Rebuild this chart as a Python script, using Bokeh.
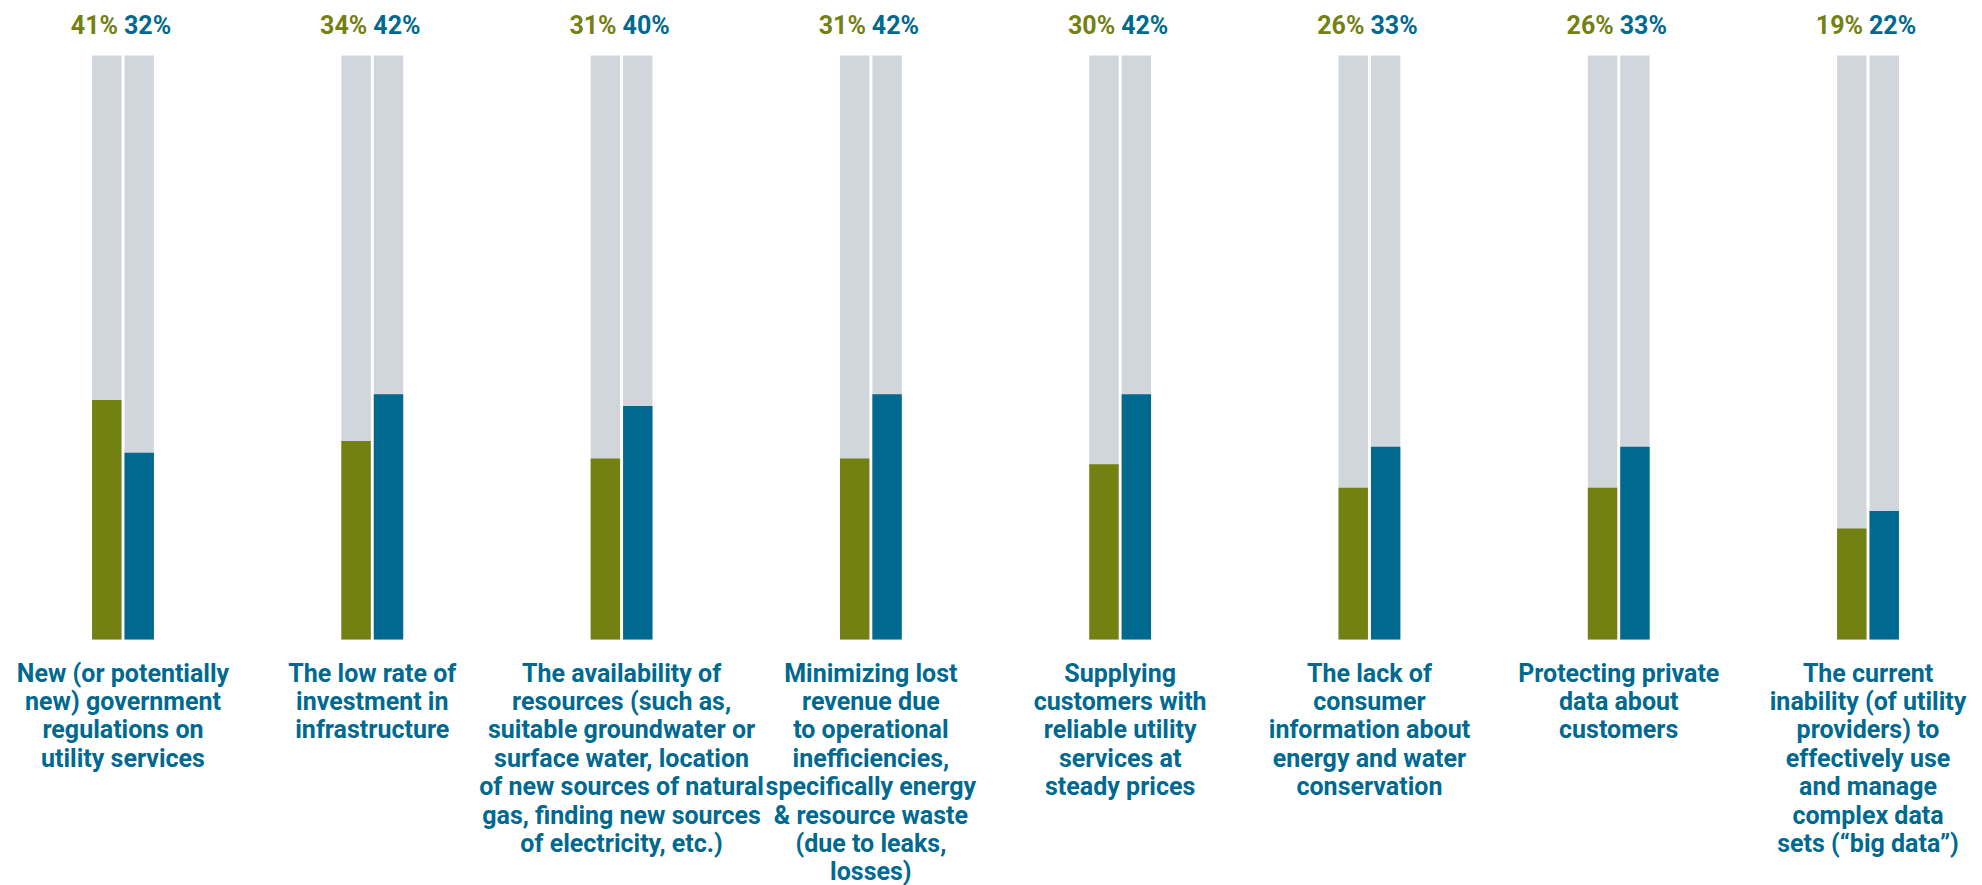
from bokeh.plotting import figure
from bokeh.models import ColumnDataSource, Range1d
from bokeh.transform import dodge
from bokeh.core.properties import value
from bokeh.embed import file_html
from bokeh.resources import INLINE

categories = [
    "New (or potentially\nnew) government\nregulations on\nutility services",
    "The low rate of\ninvestment in\ninfrastructure",
    "The availability of\nresources (such as,\nsuitable groundwater or\nsurface water, location\nof new sources of natural\ngas, finding new sources\nof electricity, etc.)",
    "Minimizing lost\nrevenue due\nto operational\ninefficiencies,\nspecifically energy\n& resource waste\n(due to leaks,\nlosses)",
    "Supplying\ncustomers with\nreliable utility\nservices at\nsteady prices",
    "The lack of\nconsumer\ninformation about\nenergy and water\nconservation",
    "Protecting private\ndata about\ncustomers",
    "The current\ninability (of utility\nproviders) to\neffectively use\nand manage\ncomplex data\nsets (\u201cbig data\u201d)",
]
green_values = [41, 34, 31, 31, 30, 26, 26, 19]
blue_values = [32, 42, 40, 42, 42, 33, 33, 22]
full_scale = [100] * len(categories)

GREEN = "#738012"
BLUE = "#006990"
GREY = "#D1D6DD"
FONT = value("Roboto")
FS = "25px"

W, H = 1982, 885
src = ColumnDataSource(dict(
    pos=list(range(len(categories))),
    cat=categories,
    green=green_values,
    blue=blue_values,
    full=full_scale,
    glab=[f"{v}%" for v in green_values],
    blab=[f"{v}%" for v in blue_values],
))

p = figure(width=W, height=H,
           x_range=Range1d(-0.4914, 7.4592), y_range=Range1d(-42.12, 109.42),
           x_axis_location=None, y_axis_location=None,
           output_backend="svg", toolbar_location=None, min_border=0)
p.grid.visible = False
p.outline_line_color = None
p.background_fill_color = "white"
p.border_fill_color = "white"

off = 0.065
bw = 0.118
gx = dodge("pos", -off)
bx = dodge("pos", off)

p.vbar(x=gx, top="full", bottom=0, width=bw, source=src, fill_color=GREY, line_color=None)
p.vbar(x=bx, top="full", bottom=0, width=bw, source=src, fill_color=GREY, line_color=None)
p.vbar(x=gx, top="green", bottom=0, width=bw, source=src, fill_color=GREEN, line_color=None)
p.vbar(x=bx, top="blue", bottom=0, width=bw, source=src, fill_color=BLUE, line_color=None)

p.text(x="pos", y=100, text="glab", source=src, x_offset=-5, y_offset=-30,
       text_align="right", text_baseline="alphabetic", text_color=GREEN,
       text_font=FONT, text_font_style="bold", text_font_size=FS)
p.text(x="pos", y=100, text="blab", source=src, x_offset=1, y_offset=-30,
       text_align="left", text_baseline="alphabetic", text_color=BLUE,
       text_font=FONT, text_font_style="bold", text_font_size=FS)

p.text(x="pos", y=0, text="cat", source=src, y_offset=19,
       text_align="center", text_baseline="top", text_color=BLUE,
       text_line_height=0.98,
       text_font=FONT, text_font_style="bold", text_font_size=FS)

open("out.html", "w").write(file_html(p, INLINE))
